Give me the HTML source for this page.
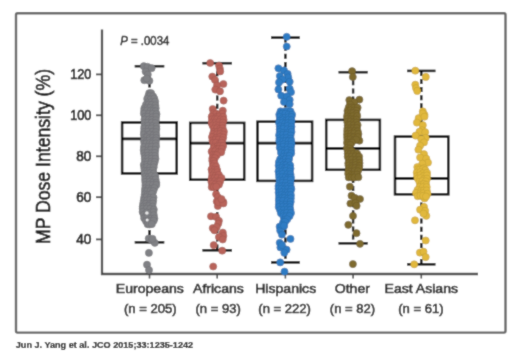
<!DOCTYPE html>
<html><head><meta charset="utf-8"><style>
html,body{margin:0;padding:0;background:#fff;}
svg{display:block;}
text{font-family:"Liberation Sans",sans-serif;}
.tk{font-size:14px;fill:#1e1e1e;stroke:#1e1e1e;stroke-width:0.75px;}
.xl{font-size:13.15px;fill:#262626;stroke:#262626;stroke-width:0.6px;}
.xn{font-size:13.4px;fill:#262626;stroke:#262626;stroke-width:0.6px;}
.pv{font-size:12px;fill:#262626;stroke:#262626;stroke-width:0.5px;}
.yl{font-size:19.5px;fill:#1a1a1a;stroke:#1a1a1a;stroke-width:0.7px;}
.ct{font-size:9.1px;font-weight:bold;fill:#111;stroke:#111;stroke-width:0.2px;}
</style></head><body>
<div id="w"><svg width="520" height="356" viewBox="0 0 520 356">
<defs><filter id="bl" x="0" y="0" width="520" height="356" filterUnits="userSpaceOnUse"><feConvolveMatrix order="3" kernelMatrix="0.03 0.09 0.03 0.09 0.52 0.09 0.03 0.09 0.03" edgeMode="duplicate"/></filter></defs>
<g filter="url(#bl)">
<rect width="520" height="356" fill="#fff"/>
<rect x="16" y="13.2" width="489.5" height="319.4" rx="1.5" fill="none" stroke="#666" stroke-width="2.4"/>
<line x1="102" y1="29.5" x2="102" y2="275" stroke="#474747" stroke-width="2.3"/>
<line x1="101" y1="274" x2="478" y2="274" stroke="#474747" stroke-width="2.3"/>
<line x1="96" y1="74.40" x2="102" y2="74.40" stroke="#474747" stroke-width="1.8"/>
<text transform="translate(91.3 78.80) scale(0.9 1)" text-anchor="end" class="tk">120</text>
<line x1="96" y1="115.30" x2="102" y2="115.30" stroke="#474747" stroke-width="1.8"/>
<text transform="translate(91.3 119.70) scale(0.9 1)" text-anchor="end" class="tk">100</text>
<line x1="96" y1="156.30" x2="102" y2="156.30" stroke="#474747" stroke-width="1.8"/>
<text transform="translate(91.3 160.70) scale(0.97 1)" text-anchor="end" class="tk">80</text>
<line x1="96" y1="197.20" x2="102" y2="197.20" stroke="#474747" stroke-width="1.8"/>
<text transform="translate(91.3 201.60) scale(0.97 1)" text-anchor="end" class="tk">60</text>
<line x1="96" y1="239.40" x2="102" y2="239.40" stroke="#474747" stroke-width="1.8"/>
<text transform="translate(91.3 243.80) scale(0.97 1)" text-anchor="end" class="tk">40</text>
<line x1="149.5" y1="274" x2="149.5" y2="278.5" stroke="#474747" stroke-width="1.6"/>
<line x1="149.5" y1="66.2" x2="149.5" y2="122.5" stroke="#050505" stroke-width="2.4" stroke-dasharray="5 3.1"/>
<line x1="149.5" y1="173.4" x2="149.5" y2="242.3" stroke="#050505" stroke-width="2.4" stroke-dasharray="5 3.1"/>
<line x1="134.7" y1="66.2" x2="164.3" y2="66.2" stroke="#050505" stroke-width="2.5"/>
<line x1="134.7" y1="242.3" x2="164.3" y2="242.3" stroke="#050505" stroke-width="2.5"/>
<rect x="122.1" y="122.5" width="54.60" height="50.90" fill="none" stroke="#050505" stroke-width="2.5"/>
<line x1="122.1" y1="138.8" x2="176.7" y2="138.8" stroke="#050505" stroke-width="2.7"/>
<line x1="217.2" y1="274" x2="217.2" y2="278.5" stroke="#474747" stroke-width="1.6"/>
<line x1="217.2" y1="63.2" x2="217.2" y2="122.9" stroke="#050505" stroke-width="2.4" stroke-dasharray="5 3.1"/>
<line x1="217.2" y1="179.7" x2="217.2" y2="250.3" stroke="#050505" stroke-width="2.4" stroke-dasharray="5 3.1"/>
<line x1="202.4" y1="63.2" x2="232.0" y2="63.2" stroke="#050505" stroke-width="2.5"/>
<line x1="202.4" y1="250.3" x2="232.0" y2="250.3" stroke="#050505" stroke-width="2.5"/>
<rect x="190.2" y="122.9" width="54.00" height="56.80" fill="none" stroke="#050505" stroke-width="2.5"/>
<line x1="190.2" y1="143.2" x2="244.2" y2="143.2" stroke="#050505" stroke-width="2.7"/>
<line x1="285.4" y1="274" x2="285.4" y2="278.5" stroke="#474747" stroke-width="1.6"/>
<line x1="285.4" y1="37.6" x2="285.4" y2="121.7" stroke="#050505" stroke-width="2.4" stroke-dasharray="5 3.1"/>
<line x1="285.4" y1="180.9" x2="285.4" y2="262.4" stroke="#050505" stroke-width="2.4" stroke-dasharray="5 3.1"/>
<line x1="271.0" y1="37.6" x2="299.8" y2="37.6" stroke="#050505" stroke-width="2.5"/>
<line x1="271.0" y1="262.4" x2="299.8" y2="262.4" stroke="#050505" stroke-width="2.5"/>
<rect x="257.5" y="121.7" width="54.60" height="59.20" fill="none" stroke="#050505" stroke-width="2.5"/>
<line x1="257.5" y1="143.2" x2="312.1" y2="143.2" stroke="#050505" stroke-width="2.7"/>
<line x1="353.1" y1="274" x2="353.1" y2="278.5" stroke="#474747" stroke-width="1.6"/>
<line x1="353.1" y1="72.2" x2="353.1" y2="119.9" stroke="#050505" stroke-width="2.4" stroke-dasharray="5 3.1"/>
<line x1="353.1" y1="169.8" x2="353.1" y2="243.3" stroke="#050505" stroke-width="2.4" stroke-dasharray="5 3.1"/>
<line x1="338.5" y1="72.2" x2="367.7" y2="72.2" stroke="#050505" stroke-width="2.5"/>
<line x1="338.5" y1="243.3" x2="367.7" y2="243.3" stroke="#050505" stroke-width="2.5"/>
<rect x="326.2" y="119.9" width="53.70" height="49.90" fill="none" stroke="#050505" stroke-width="2.5"/>
<line x1="326.2" y1="148.3" x2="379.9" y2="148.3" stroke="#050505" stroke-width="2.7"/>
<line x1="421.3" y1="274" x2="421.3" y2="278.5" stroke="#474747" stroke-width="1.6"/>
<line x1="421.3" y1="70.9" x2="421.3" y2="136.6" stroke="#050505" stroke-width="2.4" stroke-dasharray="5 3.1"/>
<line x1="421.3" y1="194.3" x2="421.3" y2="264.3" stroke="#050505" stroke-width="2.4" stroke-dasharray="5 3.1"/>
<line x1="407.1" y1="70.9" x2="435.5" y2="70.9" stroke="#050505" stroke-width="2.5"/>
<line x1="407.1" y1="264.3" x2="435.5" y2="264.3" stroke="#050505" stroke-width="2.5"/>
<rect x="395.0" y="136.6" width="53.30" height="57.70" fill="none" stroke="#050505" stroke-width="2.5"/>
<line x1="395.0" y1="178.3" x2="448.3" y2="178.3" stroke="#050505" stroke-width="2.7"/>
<g fill="#808185" stroke="#6e6e72" stroke-width="0.5"><circle cx="143.8" cy="66.2" r="3.6"/><circle cx="147.5" cy="66.8" r="3.6"/><circle cx="151.6" cy="68.2" r="3.6"/><circle cx="145.6" cy="71.6" r="3.6"/><circle cx="147.8" cy="74.6" r="3.6"/><circle cx="144.3" cy="80.2" r="3.6"/><circle cx="149.4" cy="80.8" r="3.6"/><circle cx="146.8" cy="78.5" r="3.6"/><circle cx="148.7" cy="238.5" r="3.6"/><circle cx="151.8" cy="240.5" r="3.6"/><circle cx="154.8" cy="242.8" r="3.6"/><circle cx="152.5" cy="238.8" r="3.6"/><circle cx="148.9" cy="252.9" r="3.6"/><circle cx="147.0" cy="264.7" r="3.6"/><circle cx="149.0" cy="270.0" r="3.6"/><circle cx="149.2" cy="93.2" r="3.6"/><circle cx="151.1" cy="93.1" r="3.6"/><circle cx="148.3" cy="96.2" r="3.6"/><circle cx="150.4" cy="96.1" r="3.6"/><circle cx="153.1" cy="96.4" r="3.6"/><circle cx="147.2" cy="98.9" r="3.6"/><circle cx="150.6" cy="99.5" r="3.6"/><circle cx="154.3" cy="98.6" r="3.6"/><circle cx="147.6" cy="102.5" r="3.6"/><circle cx="151.1" cy="102.2" r="3.6"/><circle cx="155.2" cy="101.6" r="3.6"/><circle cx="146.0" cy="104.6" r="3.6"/><circle cx="148.7" cy="104.7" r="3.6"/><circle cx="151.6" cy="105.0" r="3.6"/><circle cx="155.4" cy="105.4" r="3.6"/><circle cx="144.4" cy="108.2" r="3.6"/><circle cx="147.4" cy="108.2" r="3.6"/><circle cx="150.2" cy="107.8" r="3.6"/><circle cx="153.7" cy="108.6" r="3.6"/><circle cx="155.7" cy="108.2" r="3.6"/><circle cx="144.2" cy="110.7" r="3.6"/><circle cx="147.1" cy="110.5" r="3.6"/><circle cx="150.6" cy="110.9" r="3.6"/><circle cx="153.5" cy="110.9" r="3.6"/><circle cx="155.6" cy="111.4" r="3.6"/><circle cx="143.9" cy="113.7" r="3.6"/><circle cx="148.9" cy="114.0" r="3.6"/><circle cx="152.7" cy="113.9" r="3.6"/><circle cx="156.5" cy="114.1" r="3.6"/><circle cx="145.1" cy="116.7" r="3.6"/><circle cx="147.9" cy="116.8" r="3.6"/><circle cx="152.5" cy="117.3" r="3.6"/><circle cx="156.1" cy="116.7" r="3.6"/><circle cx="144.5" cy="119.5" r="3.6"/><circle cx="148.9" cy="119.6" r="3.6"/><circle cx="152.0" cy="119.9" r="3.6"/><circle cx="155.9" cy="120.2" r="3.6"/><circle cx="144.5" cy="123.1" r="3.6"/><circle cx="148.1" cy="122.8" r="3.6"/><circle cx="151.8" cy="122.6" r="3.6"/><circle cx="155.3" cy="123.2" r="3.6"/><circle cx="144.5" cy="126.3" r="3.6"/><circle cx="148.1" cy="125.8" r="3.6"/><circle cx="152.5" cy="126.1" r="3.6"/><circle cx="156.3" cy="126.4" r="3.6"/><circle cx="144.2" cy="128.6" r="3.6"/><circle cx="148.7" cy="128.7" r="3.6"/><circle cx="151.8" cy="128.4" r="3.6"/><circle cx="156.4" cy="129.0" r="3.6"/><circle cx="144.0" cy="132.0" r="3.6"/><circle cx="148.1" cy="131.8" r="3.6"/><circle cx="152.6" cy="131.8" r="3.6"/><circle cx="155.9" cy="132.2" r="3.6"/><circle cx="143.8" cy="134.5" r="3.6"/><circle cx="147.7" cy="135.2" r="3.6"/><circle cx="149.8" cy="134.5" r="3.6"/><circle cx="153.3" cy="135.4" r="3.6"/><circle cx="156.3" cy="135.3" r="3.6"/><circle cx="144.4" cy="137.9" r="3.6"/><circle cx="147.0" cy="137.3" r="3.6"/><circle cx="149.4" cy="138.4" r="3.6"/><circle cx="152.6" cy="138.1" r="3.6"/><circle cx="156.3" cy="138.1" r="3.6"/><circle cx="143.9" cy="140.6" r="3.6"/><circle cx="146.6" cy="141.1" r="3.6"/><circle cx="149.4" cy="140.5" r="3.6"/><circle cx="153.0" cy="141.2" r="3.6"/><circle cx="155.9" cy="140.6" r="3.6"/><circle cx="144.4" cy="143.5" r="3.6"/><circle cx="146.4" cy="143.5" r="3.6"/><circle cx="149.8" cy="143.2" r="3.6"/><circle cx="152.4" cy="143.6" r="3.6"/><circle cx="155.7" cy="143.4" r="3.6"/><circle cx="143.9" cy="147.1" r="3.6"/><circle cx="148.5" cy="146.9" r="3.6"/><circle cx="151.9" cy="146.8" r="3.6"/><circle cx="156.0" cy="146.3" r="3.6"/><circle cx="143.7" cy="150.1" r="3.6"/><circle cx="148.2" cy="150.3" r="3.6"/><circle cx="151.0" cy="149.9" r="3.6"/><circle cx="155.3" cy="149.9" r="3.6"/><circle cx="144.1" cy="153.2" r="3.6"/><circle cx="147.5" cy="152.8" r="3.6"/><circle cx="151.8" cy="153.2" r="3.6"/><circle cx="154.9" cy="152.9" r="3.6"/><circle cx="144.7" cy="156.1" r="3.6"/><circle cx="147.8" cy="155.9" r="3.6"/><circle cx="151.9" cy="156.1" r="3.6"/><circle cx="155.1" cy="156.0" r="3.6"/><circle cx="144.8" cy="158.7" r="3.6"/><circle cx="148.1" cy="158.5" r="3.6"/><circle cx="151.5" cy="158.8" r="3.6"/><circle cx="155.5" cy="158.8" r="3.6"/><circle cx="144.9" cy="162.0" r="3.6"/><circle cx="148.1" cy="161.5" r="3.6"/><circle cx="151.5" cy="161.7" r="3.6"/><circle cx="154.7" cy="162.0" r="3.6"/><circle cx="143.8" cy="164.9" r="3.6"/><circle cx="147.0" cy="164.7" r="3.6"/><circle cx="150.7" cy="164.3" r="3.6"/><circle cx="153.9" cy="164.6" r="3.6"/><circle cx="144.3" cy="168.0" r="3.6"/><circle cx="147.0" cy="167.0" r="3.6"/><circle cx="150.0" cy="167.8" r="3.6"/><circle cx="153.7" cy="167.3" r="3.6"/><circle cx="144.5" cy="170.7" r="3.6"/><circle cx="146.9" cy="171.0" r="3.6"/><circle cx="149.5" cy="170.8" r="3.6"/><circle cx="153.0" cy="170.5" r="3.6"/><circle cx="144.6" cy="174.0" r="3.6"/><circle cx="147.8" cy="173.4" r="3.6"/><circle cx="150.3" cy="173.3" r="3.6"/><circle cx="153.7" cy="173.5" r="3.6"/><circle cx="145.3" cy="176.9" r="3.6"/><circle cx="148.6" cy="177.1" r="3.6"/><circle cx="151.4" cy="176.1" r="3.6"/><circle cx="155.2" cy="176.3" r="3.6"/><circle cx="145.1" cy="179.4" r="3.6"/><circle cx="149.2" cy="179.5" r="3.6"/><circle cx="152.3" cy="179.9" r="3.6"/><circle cx="155.6" cy="179.4" r="3.6"/><circle cx="145.3" cy="182.0" r="3.6"/><circle cx="149.7" cy="181.9" r="3.6"/><circle cx="152.9" cy="182.6" r="3.6"/><circle cx="156.3" cy="182.8" r="3.6"/><circle cx="145.4" cy="185.1" r="3.6"/><circle cx="149.3" cy="184.9" r="3.6"/><circle cx="152.9" cy="185.1" r="3.6"/><circle cx="156.3" cy="185.0" r="3.6"/><circle cx="145.2" cy="188.4" r="3.6"/><circle cx="148.5" cy="188.6" r="3.6"/><circle cx="151.8" cy="189.0" r="3.6"/><circle cx="154.4" cy="188.1" r="3.6"/><circle cx="144.9" cy="191.1" r="3.6"/><circle cx="147.1" cy="191.4" r="3.6"/><circle cx="150.5" cy="191.0" r="3.6"/><circle cx="153.3" cy="191.2" r="3.6"/><circle cx="144.7" cy="194.4" r="3.6"/><circle cx="147.4" cy="194.7" r="3.6"/><circle cx="149.7" cy="194.7" r="3.6"/><circle cx="152.0" cy="194.0" r="3.6"/><circle cx="144.2" cy="197.6" r="3.6"/><circle cx="146.5" cy="197.3" r="3.6"/><circle cx="150.2" cy="197.8" r="3.6"/><circle cx="153.5" cy="197.4" r="3.6"/><circle cx="143.7" cy="200.6" r="3.6"/><circle cx="147.2" cy="200.3" r="3.6"/><circle cx="150.2" cy="200.0" r="3.6"/><circle cx="153.2" cy="200.7" r="3.6"/><circle cx="143.2" cy="203.5" r="3.6"/><circle cx="146.0" cy="203.8" r="3.6"/><circle cx="150.0" cy="203.9" r="3.6"/><circle cx="152.7" cy="203.6" r="3.6"/><circle cx="142.7" cy="206.7" r="3.6"/><circle cx="146.7" cy="206.1" r="3.6"/><circle cx="148.9" cy="206.2" r="3.6"/><circle cx="152.6" cy="206.6" r="3.6"/><circle cx="142.7" cy="208.8" r="3.6"/><circle cx="146.8" cy="208.7" r="3.6"/><circle cx="150.3" cy="208.9" r="3.6"/><circle cx="153.8" cy="209.6" r="3.6"/><circle cx="142.6" cy="211.9" r="3.6"/><circle cx="146.7" cy="212.5" r="3.6"/><circle cx="150.6" cy="212.5" r="3.6"/><circle cx="153.4" cy="212.2" r="3.6"/><circle cx="143.8" cy="214.8" r="3.6"/><circle cx="146.6" cy="215.3" r="3.6"/><circle cx="150.1" cy="215.5" r="3.6"/><circle cx="153.8" cy="215.2" r="3.6"/><circle cx="144.2" cy="218.3" r="3.6"/><circle cx="147.1" cy="218.1" r="3.6"/><circle cx="151.0" cy="218.7" r="3.6"/><circle cx="154.4" cy="218.5" r="3.6"/><circle cx="146.0" cy="221.2" r="3.6"/><circle cx="148.4" cy="220.8" r="3.6"/><circle cx="151.1" cy="221.2" r="3.6"/><circle cx="153.7" cy="220.7" r="3.6"/><circle cx="147.6" cy="224.2" r="3.6"/><circle cx="149.4" cy="224.5" r="3.6"/><circle cx="151.9" cy="224.1" r="3.6"/></g>
<circle cx="146.9" cy="213" r="1.8" fill="#fff" opacity="0.8"/>
<circle cx="147.2" cy="220" r="1.5" fill="#fff" opacity="0.8"/>
<g fill="#b8635a" stroke="#9e554d" stroke-width="0.5"><circle cx="210.2" cy="63.0" r="3.6"/><circle cx="219.0" cy="65.5" r="3.6"/><circle cx="219.8" cy="68.5" r="3.6"/><circle cx="220.2" cy="71.4" r="3.6"/><circle cx="212.3" cy="76.6" r="3.6"/><circle cx="215.0" cy="80.0" r="3.6"/><circle cx="223.4" cy="84.0" r="3.6"/><circle cx="217.0" cy="85.4" r="3.6"/><circle cx="215.3" cy="89.6" r="3.6"/><circle cx="220.0" cy="91.3" r="3.6"/><circle cx="223.6" cy="100.6" r="3.6"/><circle cx="212.7" cy="109.0" r="3.6"/><circle cx="222.8" cy="110.7" r="3.6"/><circle cx="216.1" cy="194.2" r="3.6"/><circle cx="217.8" cy="197.0" r="3.6"/><circle cx="223.4" cy="202.0" r="3.6"/><circle cx="216.7" cy="201.5" r="3.6"/><circle cx="217.8" cy="206.0" r="3.6"/><circle cx="218.3" cy="202.2" r="3.6"/><circle cx="223.4" cy="203.4" r="3.6"/><circle cx="221.5" cy="199.0" r="3.6"/><circle cx="211.0" cy="216.3" r="3.6"/><circle cx="216.1" cy="216.9" r="3.6"/><circle cx="218.9" cy="220.8" r="3.6"/><circle cx="218.3" cy="223.6" r="3.6"/><circle cx="212.7" cy="228.1" r="3.6"/><circle cx="216.7" cy="227.0" r="3.6"/><circle cx="214.4" cy="230.3" r="3.6"/><circle cx="222.8" cy="232.6" r="3.6"/><circle cx="223.4" cy="236.0" r="3.6"/><circle cx="218.9" cy="237.1" r="3.6"/><circle cx="222.7" cy="239.5" r="3.6"/><circle cx="213.7" cy="245.1" r="3.6"/><circle cx="222.2" cy="250.7" r="3.6"/><circle cx="213.2" cy="266.5" r="3.6"/><circle cx="213.3" cy="113.4" r="3.6"/><circle cx="216.2" cy="113.7" r="3.6"/><circle cx="219.5" cy="114.4" r="3.6"/><circle cx="222.3" cy="113.8" r="3.6"/><circle cx="211.7" cy="116.7" r="3.6"/><circle cx="216.2" cy="117.3" r="3.6"/><circle cx="219.2" cy="116.6" r="3.6"/><circle cx="223.2" cy="116.9" r="3.6"/><circle cx="212.0" cy="119.3" r="3.6"/><circle cx="214.9" cy="119.1" r="3.6"/><circle cx="217.1" cy="119.4" r="3.6"/><circle cx="220.6" cy="119.5" r="3.6"/><circle cx="223.6" cy="119.8" r="3.6"/><circle cx="211.6" cy="122.9" r="3.6"/><circle cx="215.3" cy="122.7" r="3.6"/><circle cx="219.0" cy="122.3" r="3.6"/><circle cx="222.9" cy="122.6" r="3.6"/><circle cx="212.5" cy="125.5" r="3.6"/><circle cx="216.1" cy="125.2" r="3.6"/><circle cx="218.9" cy="125.7" r="3.6"/><circle cx="222.5" cy="125.6" r="3.6"/><circle cx="213.9" cy="128.6" r="3.6"/><circle cx="217.2" cy="128.2" r="3.6"/><circle cx="220.2" cy="128.9" r="3.6"/><circle cx="222.7" cy="128.3" r="3.6"/><circle cx="213.9" cy="131.9" r="3.6"/><circle cx="217.0" cy="132.0" r="3.6"/><circle cx="220.8" cy="131.0" r="3.6"/><circle cx="223.9" cy="131.7" r="3.6"/><circle cx="213.0" cy="134.0" r="3.6"/><circle cx="217.1" cy="134.3" r="3.6"/><circle cx="220.3" cy="133.9" r="3.6"/><circle cx="223.5" cy="134.6" r="3.6"/><circle cx="212.0" cy="137.0" r="3.6"/><circle cx="216.3" cy="137.8" r="3.6"/><circle cx="220.2" cy="136.8" r="3.6"/><circle cx="223.2" cy="137.6" r="3.6"/><circle cx="212.5" cy="140.4" r="3.6"/><circle cx="215.5" cy="139.7" r="3.6"/><circle cx="218.6" cy="139.7" r="3.6"/><circle cx="222.4" cy="140.3" r="3.6"/><circle cx="213.2" cy="142.8" r="3.6"/><circle cx="215.9" cy="142.8" r="3.6"/><circle cx="219.6" cy="143.8" r="3.6"/><circle cx="221.9" cy="142.8" r="3.6"/><circle cx="214.2" cy="146.6" r="3.6"/><circle cx="217.5" cy="146.4" r="3.6"/><circle cx="220.0" cy="146.1" r="3.6"/><circle cx="223.1" cy="146.0" r="3.6"/><circle cx="213.4" cy="148.5" r="3.6"/><circle cx="216.6" cy="149.4" r="3.6"/><circle cx="218.8" cy="149.0" r="3.6"/><circle cx="222.0" cy="148.9" r="3.6"/><circle cx="211.6" cy="151.6" r="3.6"/><circle cx="215.1" cy="151.4" r="3.6"/><circle cx="218.7" cy="152.3" r="3.6"/><circle cx="221.2" cy="152.3" r="3.6"/><circle cx="212.9" cy="154.8" r="3.6"/><circle cx="215.2" cy="154.9" r="3.6"/><circle cx="216.8" cy="155.2" r="3.6"/><circle cx="212.4" cy="158.2" r="3.6"/><circle cx="214.9" cy="158.1" r="3.6"/><circle cx="212.3" cy="160.7" r="3.6"/><circle cx="213.7" cy="161.1" r="3.6"/><circle cx="212.8" cy="164.0" r="3.6"/><circle cx="214.7" cy="163.6" r="3.6"/><circle cx="213.2" cy="166.2" r="3.6"/><circle cx="216.1" cy="166.6" r="3.6"/><circle cx="211.5" cy="169.4" r="3.6"/><circle cx="214.6" cy="169.7" r="3.6"/><circle cx="217.1" cy="170.0" r="3.6"/><circle cx="212.1" cy="172.3" r="3.6"/><circle cx="214.8" cy="172.6" r="3.6"/><circle cx="217.4" cy="172.4" r="3.6"/><circle cx="212.2" cy="175.6" r="3.6"/><circle cx="215.8" cy="175.7" r="3.6"/><circle cx="218.9" cy="174.9" r="3.6"/><circle cx="211.6" cy="178.6" r="3.6"/><circle cx="214.5" cy="178.2" r="3.6"/><circle cx="217.4" cy="178.0" r="3.6"/><circle cx="221.5" cy="178.0" r="3.6"/><circle cx="211.4" cy="181.7" r="3.6"/><circle cx="214.8" cy="181.3" r="3.6"/><circle cx="218.1" cy="181.4" r="3.6"/><circle cx="220.1" cy="181.4" r="3.6"/><circle cx="212.2" cy="183.8" r="3.6"/><circle cx="215.3" cy="184.5" r="3.6"/><circle cx="219.0" cy="184.6" r="3.6"/><circle cx="211.7" cy="187.1" r="3.6"/><circle cx="213.9" cy="187.1" r="3.6"/><circle cx="216.3" cy="186.7" r="3.6"/></g>
<g fill="#2f7cc4" stroke="#286aa8" stroke-width="0.5"><circle cx="286.7" cy="36.8" r="3.6"/><circle cx="286.7" cy="46.5" r="3.6"/><circle cx="278.4" cy="68.3" r="3.6"/><circle cx="284.0" cy="70.4" r="3.6"/><circle cx="287.6" cy="73.9" r="3.6"/><circle cx="279.8" cy="76.0" r="3.6"/><circle cx="288.3" cy="77.4" r="3.6"/><circle cx="282.6" cy="79.6" r="3.6"/><circle cx="289.7" cy="81.7" r="3.6"/><circle cx="279.0" cy="82.4" r="3.6"/><circle cx="278.4" cy="89.4" r="3.6"/><circle cx="289.7" cy="88.7" r="3.6"/><circle cx="291.0" cy="92.2" r="3.6"/><circle cx="281.2" cy="95.7" r="3.6"/><circle cx="286.9" cy="96.4" r="3.6"/><circle cx="289.7" cy="99.9" r="3.6"/><circle cx="284.0" cy="102.0" r="3.6"/><circle cx="289.7" cy="104.1" r="3.6"/><circle cx="279.6" cy="226.7" r="3.6"/><circle cx="284.1" cy="226.1" r="3.6"/><circle cx="280.2" cy="230.6" r="3.6"/><circle cx="281.9" cy="234.6" r="3.6"/><circle cx="290.5" cy="238.9" r="3.6"/><circle cx="279.7" cy="242.8" r="3.6"/><circle cx="280.4" cy="247.4" r="3.6"/><circle cx="286.6" cy="249.7" r="3.6"/><circle cx="284.3" cy="252.8" r="3.6"/><circle cx="282.0" cy="245.0" r="3.6"/><circle cx="280.2" cy="262.4" r="3.6"/><circle cx="284.5" cy="271.6" r="3.6"/><circle cx="280.5" cy="111.3" r="3.6"/><circle cx="283.7" cy="111.5" r="3.6"/><circle cx="287.0" cy="111.1" r="3.6"/><circle cx="290.6" cy="111.4" r="3.6"/><circle cx="279.3" cy="114.6" r="3.6"/><circle cx="282.4" cy="113.8" r="3.6"/><circle cx="285.4" cy="113.8" r="3.6"/><circle cx="288.4" cy="114.7" r="3.6"/><circle cx="292.1" cy="114.7" r="3.6"/><circle cx="279.7" cy="116.9" r="3.6"/><circle cx="283.2" cy="117.9" r="3.6"/><circle cx="285.2" cy="117.8" r="3.6"/><circle cx="288.6" cy="117.3" r="3.6"/><circle cx="291.4" cy="117.1" r="3.6"/><circle cx="279.4" cy="120.8" r="3.6"/><circle cx="282.8" cy="120.3" r="3.6"/><circle cx="286.1" cy="120.7" r="3.6"/><circle cx="288.6" cy="119.9" r="3.6"/><circle cx="291.5" cy="120.3" r="3.6"/><circle cx="279.1" cy="122.9" r="3.6"/><circle cx="282.5" cy="122.9" r="3.6"/><circle cx="285.3" cy="123.5" r="3.6"/><circle cx="288.2" cy="123.0" r="3.6"/><circle cx="291.2" cy="123.2" r="3.6"/><circle cx="279.7" cy="126.4" r="3.6"/><circle cx="283.9" cy="126.9" r="3.6"/><circle cx="287.4" cy="126.0" r="3.6"/><circle cx="291.5" cy="126.7" r="3.6"/><circle cx="279.7" cy="129.4" r="3.6"/><circle cx="283.2" cy="129.0" r="3.6"/><circle cx="287.4" cy="129.4" r="3.6"/><circle cx="291.0" cy="129.5" r="3.6"/><circle cx="279.7" cy="132.0" r="3.6"/><circle cx="283.0" cy="132.9" r="3.6"/><circle cx="287.6" cy="132.8" r="3.6"/><circle cx="291.5" cy="131.9" r="3.6"/><circle cx="279.1" cy="135.2" r="3.6"/><circle cx="283.2" cy="134.8" r="3.6"/><circle cx="286.6" cy="134.8" r="3.6"/><circle cx="290.6" cy="135.5" r="3.6"/><circle cx="279.5" cy="138.4" r="3.6"/><circle cx="283.1" cy="138.3" r="3.6"/><circle cx="286.7" cy="138.1" r="3.6"/><circle cx="290.7" cy="138.6" r="3.6"/><circle cx="279.3" cy="140.9" r="3.6"/><circle cx="283.1" cy="141.4" r="3.6"/><circle cx="286.0" cy="141.0" r="3.6"/><circle cx="288.5" cy="141.0" r="3.6"/><circle cx="291.3" cy="141.2" r="3.6"/><circle cx="280.2" cy="144.8" r="3.6"/><circle cx="283.7" cy="144.4" r="3.6"/><circle cx="287.8" cy="144.8" r="3.6"/><circle cx="291.5" cy="144.2" r="3.6"/><circle cx="279.8" cy="147.7" r="3.6"/><circle cx="283.4" cy="146.8" r="3.6"/><circle cx="287.5" cy="147.3" r="3.6"/><circle cx="290.9" cy="147.1" r="3.6"/><circle cx="281.0" cy="149.9" r="3.6"/><circle cx="284.0" cy="150.5" r="3.6"/><circle cx="287.3" cy="150.0" r="3.6"/><circle cx="291.1" cy="150.5" r="3.6"/><circle cx="281.0" cy="152.9" r="3.6"/><circle cx="284.5" cy="153.5" r="3.6"/><circle cx="287.8" cy="152.8" r="3.6"/><circle cx="291.2" cy="153.3" r="3.6"/><circle cx="283.7" cy="156.7" r="3.6"/><circle cx="287.0" cy="156.2" r="3.6"/><circle cx="289.4" cy="156.1" r="3.6"/><circle cx="280.1" cy="159.2" r="3.6"/><circle cx="283.7" cy="159.7" r="3.6"/><circle cx="285.7" cy="159.1" r="3.6"/><circle cx="289.1" cy="159.1" r="3.6"/><circle cx="278.9" cy="162.1" r="3.6"/><circle cx="282.0" cy="162.3" r="3.6"/><circle cx="285.9" cy="162.3" r="3.6"/><circle cx="288.4" cy="162.3" r="3.6"/><circle cx="278.6" cy="165.5" r="3.6"/><circle cx="283.3" cy="165.0" r="3.6"/><circle cx="285.9" cy="165.3" r="3.6"/><circle cx="290.2" cy="165.3" r="3.6"/><circle cx="279.5" cy="168.4" r="3.6"/><circle cx="282.4" cy="167.7" r="3.6"/><circle cx="284.9" cy="168.6" r="3.6"/><circle cx="287.3" cy="167.7" r="3.6"/><circle cx="290.5" cy="168.6" r="3.6"/><circle cx="278.5" cy="171.4" r="3.6"/><circle cx="282.1" cy="171.5" r="3.6"/><circle cx="286.1" cy="170.9" r="3.6"/><circle cx="289.8" cy="171.5" r="3.6"/><circle cx="279.0" cy="174.5" r="3.6"/><circle cx="282.7" cy="174.0" r="3.6"/><circle cx="287.2" cy="174.4" r="3.6"/><circle cx="290.5" cy="174.3" r="3.6"/><circle cx="279.2" cy="177.4" r="3.6"/><circle cx="282.7" cy="177.1" r="3.6"/><circle cx="285.6" cy="177.4" r="3.6"/><circle cx="288.6" cy="177.6" r="3.6"/><circle cx="291.0" cy="177.6" r="3.6"/><circle cx="279.5" cy="180.4" r="3.6"/><circle cx="282.9" cy="180.5" r="3.6"/><circle cx="287.0" cy="180.1" r="3.6"/><circle cx="290.6" cy="179.9" r="3.6"/><circle cx="279.3" cy="183.7" r="3.6"/><circle cx="282.6" cy="182.8" r="3.6"/><circle cx="286.1" cy="183.1" r="3.6"/><circle cx="290.5" cy="183.7" r="3.6"/><circle cx="278.5" cy="186.0" r="3.6"/><circle cx="281.6" cy="186.4" r="3.6"/><circle cx="285.2" cy="185.8" r="3.6"/><circle cx="287.2" cy="186.2" r="3.6"/><circle cx="290.7" cy="186.6" r="3.6"/><circle cx="278.5" cy="188.8" r="3.6"/><circle cx="281.7" cy="188.9" r="3.6"/><circle cx="284.7" cy="189.5" r="3.6"/><circle cx="288.1" cy="188.9" r="3.6"/><circle cx="291.4" cy="189.0" r="3.6"/><circle cx="278.6" cy="192.5" r="3.6"/><circle cx="281.8" cy="192.3" r="3.6"/><circle cx="285.4" cy="192.2" r="3.6"/><circle cx="287.6" cy="192.7" r="3.6"/><circle cx="290.5" cy="192.0" r="3.6"/><circle cx="279.1" cy="195.7" r="3.6"/><circle cx="282.1" cy="194.9" r="3.6"/><circle cx="284.5" cy="195.7" r="3.6"/><circle cx="288.3" cy="195.1" r="3.6"/><circle cx="290.9" cy="195.2" r="3.6"/><circle cx="279.0" cy="198.7" r="3.6"/><circle cx="282.5" cy="197.9" r="3.6"/><circle cx="284.6" cy="198.2" r="3.6"/><circle cx="287.9" cy="198.6" r="3.6"/><circle cx="290.8" cy="198.3" r="3.6"/><circle cx="278.9" cy="200.8" r="3.6"/><circle cx="283.0" cy="200.9" r="3.6"/><circle cx="287.4" cy="201.2" r="3.6"/><circle cx="290.7" cy="201.7" r="3.6"/><circle cx="278.9" cy="204.2" r="3.6"/><circle cx="282.5" cy="204.5" r="3.6"/><circle cx="285.9" cy="204.6" r="3.6"/><circle cx="290.0" cy="204.5" r="3.6"/><circle cx="278.7" cy="207.0" r="3.6"/><circle cx="283.2" cy="206.7" r="3.6"/><circle cx="286.5" cy="207.1" r="3.6"/><circle cx="289.7" cy="207.3" r="3.6"/><circle cx="280.0" cy="210.0" r="3.6"/><circle cx="283.7" cy="210.1" r="3.6"/><circle cx="287.5" cy="209.7" r="3.6"/><circle cx="290.4" cy="209.9" r="3.6"/><circle cx="280.9" cy="213.2" r="3.6"/><circle cx="283.8" cy="213.6" r="3.6"/><circle cx="287.1" cy="212.9" r="3.6"/><circle cx="291.0" cy="213.0" r="3.6"/><circle cx="283.4" cy="216.4" r="3.6"/><circle cx="286.1" cy="216.4" r="3.6"/><circle cx="289.6" cy="216.1" r="3.6"/><circle cx="285.1" cy="219.6" r="3.6"/><circle cx="287.2" cy="219.3" r="3.6"/><circle cx="283.2" cy="222.0" r="3.6"/><circle cx="285.1" cy="221.9" r="3.6"/><circle cx="282.0" cy="225.1" r="3.6"/><circle cx="284.1" cy="225.6" r="3.6"/></g>
<g fill="#7e6a2e" stroke="#6c5b27" stroke-width="0.5"><circle cx="352.1" cy="71.2" r="3.6"/><circle cx="352.8" cy="77.0" r="3.6"/><circle cx="349.3" cy="100.1" r="3.6"/><circle cx="359.4" cy="99.6" r="3.6"/><circle cx="354.3" cy="102.4" r="3.6"/><circle cx="349.9" cy="104.6" r="3.6"/><circle cx="359.4" cy="140.7" r="3.6"/><circle cx="349.9" cy="186.7" r="3.6"/><circle cx="351.5" cy="195.7" r="3.6"/><circle cx="354.9" cy="197.9" r="3.6"/><circle cx="360.0" cy="199.0" r="3.6"/><circle cx="350.4" cy="203.5" r="3.6"/><circle cx="355.5" cy="203.0" r="3.6"/><circle cx="356.6" cy="205.8" r="3.6"/><circle cx="353.0" cy="215.9" r="3.6"/><circle cx="348.3" cy="224.8" r="3.6"/><circle cx="356.5" cy="233.2" r="3.6"/><circle cx="360.0" cy="243.8" r="3.6"/><circle cx="352.9" cy="264.1" r="3.6"/><circle cx="348.6" cy="107.6" r="3.6"/><circle cx="351.5" cy="107.6" r="3.6"/><circle cx="354.1" cy="107.9" r="3.6"/><circle cx="357.6" cy="107.7" r="3.6"/><circle cx="347.5" cy="110.9" r="3.6"/><circle cx="350.5" cy="110.4" r="3.6"/><circle cx="354.1" cy="110.5" r="3.6"/><circle cx="356.5" cy="110.8" r="3.6"/><circle cx="347.6" cy="113.5" r="3.6"/><circle cx="351.0" cy="113.1" r="3.6"/><circle cx="353.2" cy="113.1" r="3.6"/><circle cx="356.6" cy="113.8" r="3.6"/><circle cx="347.0" cy="116.4" r="3.6"/><circle cx="351.0" cy="116.6" r="3.6"/><circle cx="353.1" cy="116.2" r="3.6"/><circle cx="357.2" cy="116.1" r="3.6"/><circle cx="347.3" cy="119.0" r="3.6"/><circle cx="351.1" cy="119.3" r="3.6"/><circle cx="353.6" cy="119.6" r="3.6"/><circle cx="356.5" cy="119.7" r="3.6"/><circle cx="347.3" cy="122.1" r="3.6"/><circle cx="350.5" cy="121.7" r="3.6"/><circle cx="353.6" cy="122.5" r="3.6"/><circle cx="356.4" cy="122.6" r="3.6"/><circle cx="347.6" cy="125.3" r="3.6"/><circle cx="350.1" cy="125.0" r="3.6"/><circle cx="353.6" cy="125.4" r="3.6"/><circle cx="357.6" cy="125.1" r="3.6"/><circle cx="347.4" cy="128.4" r="3.6"/><circle cx="351.1" cy="128.2" r="3.6"/><circle cx="353.5" cy="128.4" r="3.6"/><circle cx="356.9" cy="128.1" r="3.6"/><circle cx="347.2" cy="131.0" r="3.6"/><circle cx="350.5" cy="131.2" r="3.6"/><circle cx="354.9" cy="131.0" r="3.6"/><circle cx="357.7" cy="131.3" r="3.6"/><circle cx="347.1" cy="134.3" r="3.6"/><circle cx="351.3" cy="133.5" r="3.6"/><circle cx="354.2" cy="133.5" r="3.6"/><circle cx="358.4" cy="134.0" r="3.6"/><circle cx="347.2" cy="137.2" r="3.6"/><circle cx="350.7" cy="136.7" r="3.6"/><circle cx="353.6" cy="137.3" r="3.6"/><circle cx="357.9" cy="137.1" r="3.6"/><circle cx="347.4" cy="139.7" r="3.6"/><circle cx="350.5" cy="139.3" r="3.6"/><circle cx="353.9" cy="140.2" r="3.6"/><circle cx="356.1" cy="139.7" r="3.6"/><circle cx="347.0" cy="142.8" r="3.6"/><circle cx="349.2" cy="143.0" r="3.6"/><circle cx="351.8" cy="142.6" r="3.6"/><circle cx="347.8" cy="145.1" r="3.6"/><circle cx="350.4" cy="145.0" r="3.6"/><circle cx="346.9" cy="148.0" r="3.6"/><circle cx="349.7" cy="148.7" r="3.6"/><circle cx="347.6" cy="151.0" r="3.6"/><circle cx="349.8" cy="151.4" r="3.6"/><circle cx="351.9" cy="151.3" r="3.6"/><circle cx="347.7" cy="153.6" r="3.6"/><circle cx="350.3" cy="154.0" r="3.6"/><circle cx="353.4" cy="153.9" r="3.6"/><circle cx="357.1" cy="153.7" r="3.6"/><circle cx="347.7" cy="156.7" r="3.6"/><circle cx="351.7" cy="156.7" r="3.6"/><circle cx="355.6" cy="156.4" r="3.6"/><circle cx="359.1" cy="156.6" r="3.6"/><circle cx="348.7" cy="159.9" r="3.6"/><circle cx="352.0" cy="159.7" r="3.6"/><circle cx="355.9" cy="160.1" r="3.6"/><circle cx="359.3" cy="160.1" r="3.6"/><circle cx="348.3" cy="163.2" r="3.6"/><circle cx="352.5" cy="163.1" r="3.6"/><circle cx="355.7" cy="162.6" r="3.6"/><circle cx="359.5" cy="163.1" r="3.6"/><circle cx="348.5" cy="165.6" r="3.6"/><circle cx="352.2" cy="166.1" r="3.6"/><circle cx="355.6" cy="165.1" r="3.6"/><circle cx="359.4" cy="166.0" r="3.6"/><circle cx="348.8" cy="168.6" r="3.6"/><circle cx="352.2" cy="168.3" r="3.6"/><circle cx="355.3" cy="168.0" r="3.6"/><circle cx="359.0" cy="168.4" r="3.6"/><circle cx="348.5" cy="171.3" r="3.6"/><circle cx="351.1" cy="171.6" r="3.6"/><circle cx="354.6" cy="171.1" r="3.6"/><circle cx="357.9" cy="171.3" r="3.6"/><circle cx="348.2" cy="173.8" r="3.6"/><circle cx="351.9" cy="174.8" r="3.6"/><circle cx="354.3" cy="174.7" r="3.6"/><circle cx="357.1" cy="174.6" r="3.6"/><circle cx="348.7" cy="177.4" r="3.6"/><circle cx="352.1" cy="177.6" r="3.6"/><circle cx="354.5" cy="177.5" r="3.6"/><circle cx="358.4" cy="177.2" r="3.6"/></g>
<g fill="#e1b83c" stroke="#c19e33" stroke-width="0.5"><circle cx="415.3" cy="70.7" r="3.6"/><circle cx="425.8" cy="76.9" r="3.6"/><circle cx="415.3" cy="84.7" r="3.6"/><circle cx="416.0" cy="88.1" r="3.6"/><circle cx="417.2" cy="90.9" r="3.6"/><circle cx="422.8" cy="111.4" r="3.6"/><circle cx="424.5" cy="114.8" r="3.6"/><circle cx="418.6" cy="118.2" r="3.6"/><circle cx="422.8" cy="113.4" r="3.6"/><circle cx="424.5" cy="116.7" r="3.6"/><circle cx="416.9" cy="122.6" r="3.6"/><circle cx="422.8" cy="125.2" r="3.6"/><circle cx="422.0" cy="130.2" r="3.6"/><circle cx="419.5" cy="131.7" r="3.6"/><circle cx="425.2" cy="132.2" r="3.6"/><circle cx="415.6" cy="135.6" r="3.6"/><circle cx="425.7" cy="137.9" r="3.6"/><circle cx="421.2" cy="139.0" r="3.6"/><circle cx="424.0" cy="142.4" r="3.6"/><circle cx="420.1" cy="145.7" r="3.6"/><circle cx="418.4" cy="149.7" r="3.6"/><circle cx="424.0" cy="154.2" r="3.6"/><circle cx="420.1" cy="157.5" r="3.6"/><circle cx="426.3" cy="158.7" r="3.6"/><circle cx="428.0" cy="162.6" r="3.6"/><circle cx="422.3" cy="163.7" r="3.6"/><circle cx="417.3" cy="167.1" r="3.6"/><circle cx="424.0" cy="168.2" r="3.6"/><circle cx="421.8" cy="192.2" r="3.6"/><circle cx="426.3" cy="195.6" r="3.6"/><circle cx="424.6" cy="198.4" r="3.6"/><circle cx="424.0" cy="206.9" r="3.6"/><circle cx="420.1" cy="209.7" r="3.6"/><circle cx="425.2" cy="210.8" r="3.6"/><circle cx="426.3" cy="215.8" r="3.6"/><circle cx="423.5" cy="213.6" r="3.6"/><circle cx="415.0" cy="220.3" r="3.6"/><circle cx="425.7" cy="240.5" r="3.6"/><circle cx="419.9" cy="252.6" r="3.6"/><circle cx="423.5" cy="251.7" r="3.6"/><circle cx="425.7" cy="257.1" r="3.6"/><circle cx="414.2" cy="264.3" r="3.6"/><circle cx="417.8" cy="169.4" r="3.6"/><circle cx="419.9" cy="169.6" r="3.6"/><circle cx="422.7" cy="169.3" r="3.6"/><circle cx="425.3" cy="170.2" r="3.6"/><circle cx="416.7" cy="172.6" r="3.6"/><circle cx="420.3" cy="172.2" r="3.6"/><circle cx="422.9" cy="173.3" r="3.6"/><circle cx="427.0" cy="172.8" r="3.6"/><circle cx="417.1" cy="176.2" r="3.6"/><circle cx="420.3" cy="175.3" r="3.6"/><circle cx="423.5" cy="176.2" r="3.6"/><circle cx="427.0" cy="175.4" r="3.6"/><circle cx="417.7" cy="178.5" r="3.6"/><circle cx="420.5" cy="178.2" r="3.6"/><circle cx="424.0" cy="179.2" r="3.6"/><circle cx="427.0" cy="178.7" r="3.6"/><circle cx="419.4" cy="181.9" r="3.6"/><circle cx="422.4" cy="181.1" r="3.6"/><circle cx="425.9" cy="181.4" r="3.6"/><circle cx="421.4" cy="184.8" r="3.6"/><circle cx="423.9" cy="184.0" r="3.6"/><circle cx="426.1" cy="184.9" r="3.6"/><circle cx="419.5" cy="187.0" r="3.6"/><circle cx="422.9" cy="187.2" r="3.6"/><circle cx="426.7" cy="187.1" r="3.6"/><circle cx="417.5" cy="190.0" r="3.6"/><circle cx="421.2" cy="190.7" r="3.6"/><circle cx="423.8" cy="190.5" r="3.6"/><circle cx="426.7" cy="190.4" r="3.6"/><circle cx="416.0" cy="193.0" r="3.6"/><circle cx="420.4" cy="193.4" r="3.6"/><circle cx="423.1" cy="193.4" r="3.6"/><circle cx="427.5" cy="193.7" r="3.6"/><circle cx="417.7" cy="196.2" r="3.6"/><circle cx="420.5" cy="195.6" r="3.6"/><circle cx="423.2" cy="195.9" r="3.6"/><circle cx="426.0" cy="196.5" r="3.6"/></g>
<text transform="translate(149.8 293.1) scale(1.07 1)" text-anchor="middle" class="xl">Europeans</text>
<text transform="translate(150.2 312.5) scale(0.975 1)" text-anchor="middle" class="xn">(n = 205)</text>
<text transform="translate(218.4 293.1) scale(1.07 1)" text-anchor="middle" class="xl">Africans</text>
<text transform="translate(218.1 312.5) scale(0.975 1)" text-anchor="middle" class="xn">(n = 93)</text>
<text transform="translate(285.7 293.1) scale(1.07 1)" text-anchor="middle" class="xl">Hispanics</text>
<text transform="translate(284.65 312.5) scale(0.975 1)" text-anchor="middle" class="xn">(n = 222)</text>
<text transform="translate(352.3 293.1) scale(1.07 1)" text-anchor="middle" class="xl">Other</text>
<text transform="translate(352.5 312.5) scale(0.975 1)" text-anchor="middle" class="xn">(n = 82)</text>
<text transform="translate(421.25 293.1) scale(1.07 1)" text-anchor="middle" class="xl">East Asians</text>
<text transform="translate(420.85 312.5) scale(0.975 1)" text-anchor="middle" class="xn">(n = 61)</text>
<text transform="translate(120.3 45.3) scale(0.95 1)" class="pv"><tspan font-style="italic">P</tspan> = .0034</text>
<text transform="translate(49.6 156.5) rotate(-90) scale(0.905 1)" text-anchor="middle" class="yl">MP Dose Intensity (%)</text>
<text x="15.8" y="347.6" class="ct">Jun J. Yang et al. JCO 2015;33:1235-1242</text>
</g>
</svg></div>
</body></html>
